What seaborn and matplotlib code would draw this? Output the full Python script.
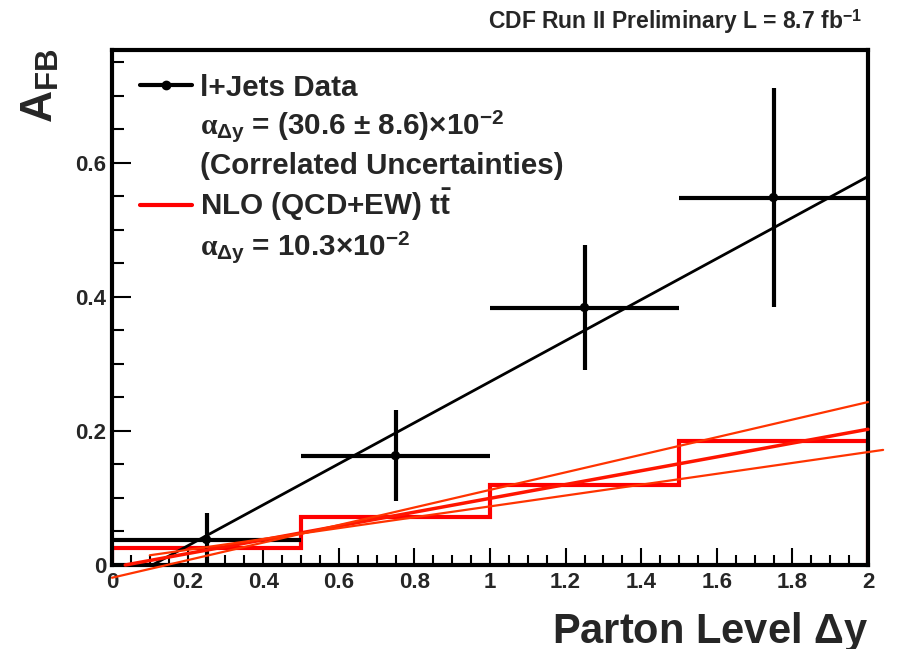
import matplotlib
matplotlib.use('Agg')
import matplotlib.pyplot as plt
from matplotlib.lines import Line2D
from matplotlib.ticker import MultipleLocator, FuncFormatter
import seaborn as sns

# parton level delta-y bins
bin_edges = [0.0, 0.5, 1.0, 1.5, 2.0]
bin_centers = [0.25, 0.75, 1.25, 1.75]
bin_halfwidth = [0.25, 0.25, 0.25, 0.25]

# l+jets data A_FB and uncertainty
data_afb = [0.038, 0.163, 0.384, 0.548]
data_err = [0.040, 0.068, 0.093, 0.163]

# NLO (QCD+EW) ttbar prediction per bin
nlo_afb = [0.025, 0.072, 0.120, 0.185]

# linear fits: data, NLO central, NLO upper, NLO lower
fit_slope = [0.306, 0.103, 0.131, 0.081]
fit_icpt = [-0.0327, -0.0036, -0.019, 0.0064]
fit_xmin = [0.107, 0.035, 0.0, 0.10]
fit_xmax = [2.0, 2.0, 2.0, 2.04]
fit_color = ['black', '#ff1500', '#ff3300', '#ff3300']
fit_lw = [2.0, 2.5, 1.6, 1.6]

x_ticks = [0, 0.2, 0.4, 0.6, 0.8, 1.0, 1.2, 1.4, 1.6, 1.8, 2.0]
y_ticks = [0, 0.2, 0.4, 0.6]

sns.set_theme(style='white')
plt.rcParams['font.family'] = ['Liberation Sans', 'DejaVu Sans']
plt.rcParams['font.weight'] = 'bold'
plt.rcParams['mathtext.fontset'] = 'custom'
plt.rcParams['mathtext.rm'] = 'Liberation Sans:bold'
plt.rcParams['mathtext.bf'] = 'Liberation Sans:bold'
plt.rcParams['mathtext.sf'] = 'Liberation Sans'
plt.rcParams['mathtext.it'] = 'Liberation Serif'

fig = plt.figure(figsize=(8.97, 6.49), dpi=100)
ax = fig.add_axes([112 / 897, 1 - 565 / 649, 756 / 897, 515 / 649])

# NLO histogram
ax.stairs(nlo_afb, bin_edges, baseline=0, color='red', lw=3, zorder=2)

# data points
ax.errorbar(bin_centers, data_afb, xerr=bin_halfwidth, yerr=data_err,
            fmt='none', ecolor='black', elinewidth=3, capsize=0, zorder=3)
sns.scatterplot(x=bin_centers, y=data_afb, color='black', s=45,
                edgecolor='none', ax=ax, zorder=4)

# fit lines
for k in range(len(fit_slope)):
    xs = [fit_xmin[k], fit_xmax[k]]
    ys = [fit_icpt[k] + fit_slope[k] * v for v in xs]
    sns.lineplot(x=xs, y=ys, color=fit_color[k], lw=fit_lw[k], ax=ax,
                 clip_on=False, zorder=5 if k > 0 else 3.5)

ax.set_xlim(0, 2)
ax.set_ylim(0, 0.768)
ax.set_xlabel('')
ax.set_ylabel('')

for s in ax.spines.values():
    s.set_linewidth(3)
    s.set_color('black')

ax.set_xticks(x_ticks)
ax.set_yticks(y_ticks)
ax.xaxis.set_minor_locator(MultipleLocator(0.05))
ax.yaxis.set_minor_locator(MultipleLocator(0.05))
fmt = FuncFormatter(lambda v, p: f'{v:g}')
ax.xaxis.set_major_formatter(fmt)
ax.yaxis.set_major_formatter(fmt)
ax.tick_params(axis='both', which='both', direction='in', color='black',
               width=1.5, top=False, right=False, bottom=True, left=True)
ax.tick_params(axis='x', which='major', length=12, pad=5, labelsize=16)
ax.tick_params(axis='x', which='minor', length=7)
ax.tick_params(axis='y', which='major', length=13.5, pad=4, labelsize=16)
ax.tick_params(axis='y', which='minor', length=8.5)
for lab in ax.get_xticklabels() + ax.get_yticklabels():
    lab.set_fontweight('bold')

# legend
h_data = Line2D([], [], color='black', lw=3, marker='o', markersize=6)
h_nlo = Line2D([], [], color='red', lw=3)
h_blank = Line2D([], [], color='none')
leg_labels = [
    'l+Jets Data',
    r'$\alpha_{\mathrm{\Delta y}}$ = (30.6 $\mathsf{\pm}$ 8.6)$\mathsf{\times}$10$^{\mathrm{-2}}$',
    '(Correlated Uncertainties)',
    r'NLO (QCD+EW) t$\bar{\mathrm{t}}$',
    r'$\alpha_{\mathrm{\Delta y}}$ = 10.3$\mathsf{\times}$10$^{\mathrm{-2}}$',
]
ax.legend([h_data, h_blank, h_blank, h_nlo, h_blank], leg_labels,
          loc='upper left', bbox_to_anchor=(0.037, 0.954), frameon=False,
          borderpad=0, borderaxespad=0, labelspacing=0.24,
          handlelength=1.76, handletextpad=0.27,
          prop={'weight': 'bold', 'size': 21.3})

# titles
fig.text(868 / 897, 1 - 643 / 649, r'Parton Level $\mathrm{\Delta}$y',
         ha='right', va='baseline', fontsize=30, fontweight='bold')
fig.text(40 / 897, 1 - 48 / 649, r'A$_{\mathrm{FB}}$', rotation=90,
         ha='center', va='top', fontsize=32, fontweight='bold')
fig.text(862 / 897, 1 - 29 / 649, r'CDF Run II Preliminary L = 8.7 fb$^{\mathrm{-1}}$',
         ha='right', va='baseline', fontsize=16.5, fontweight='bold')

fig.savefig('out.png', dpi=100)
